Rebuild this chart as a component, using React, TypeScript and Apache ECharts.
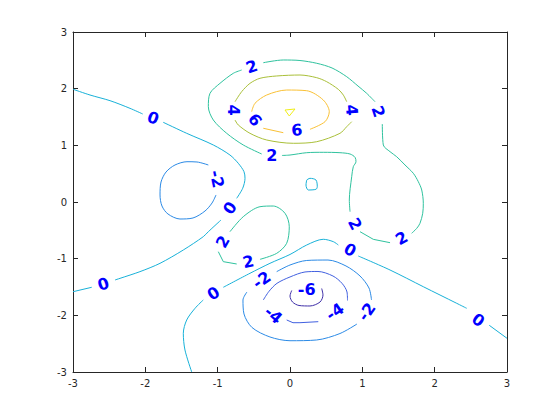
import React, { useEffect, useRef } from "react";
import * as echarts from "echarts";

type Pt = [number, number];

// Contour levels and their colours (parula-like)
const levels = [-6, -4, -2, 0, 2, 4, 6, 8];
const levelColors = ["#3e2ea8", "#4160e0", "#2b8ae6", "#18b1d8", "#2fc29e", "#a9bf38", "#f9c035", "#f0ee18"];

// Contour segments, per level (each level: list of polylines)
const contourM6: Pt[][] = [
  [[0.024, -1.562], [0.0, -1.659], [0.035, -1.765], [0.124, -1.826], [0.276, -1.835], [0.415, -1.765], [0.456, -1.641], [0.438, -1.526]],
];
const contourM4: Pt[][] = [
  [[-0.369, -1.729], [-0.29, -1.576], [-0.18, -1.435], [0.0, -1.323], [0.207, -1.235], [0.387, -1.226], [0.594, -1.306], [0.719, -1.435], [0.788, -1.588], [0.795, -1.738]],
  [[-0.046, -2.082], [0.041, -2.13], [0.138, -2.13], [0.391, -2.112]],
];
const contourM2: Pt[][] = [
  [[-1.129, 0.653], [-1.286, 0.706], [-1.424, 0.711], [-1.59, 0.653], [-1.714, 0.529], [-1.783, 0.353], [-1.797, 0.124], [-1.77, -0.071], [-1.687, -0.212], [-1.521, -0.3], [-1.341, -0.282], [-1.175, -0.159], [-1.078, -0.018], [-1.023, 0.124]],
  [[-0.184, -1.229], [0.0, -1.112], [0.231, -1.032], [0.525, -1.024], [0.774, -1.129], [0.968, -1.306], [1.092, -1.518], [1.127, -1.729]],
  [[0.926, -2.153], [0.691, -2.321], [0.369, -2.435], [0.0, -2.448], [-0.277, -2.382], [-0.525, -2.215], [-0.636, -1.976], [-0.65, -1.729], [-0.595, -1.588]],
];
const contour0: Pt[][] = [
  [[-3.0, 1.99], [-2.765, 1.888], [-2.488, 1.788], [-2.212, 1.653], [-2.036, 1.553]],
  [[-1.752, 1.406], [-1.428, 1.212], [-1.06, 1.006], [-0.83, 0.829], [-0.715, 0.683], [-0.636, 0.535], [-0.622, 0.418], [-0.654, 0.242], [-0.737, 0.065]],
  [[-0.954, -0.318], [-1.129, -0.524], [-1.199, -0.612], [-1.475, -0.847], [-1.797, -1.082], [-2.074, -1.229], [-2.35, -1.347], [-2.419, -1.376]],
  [[-2.741, -1.505], [-3.0, -1.583]],
  [[-1.359, -3.0], [-1.452, -2.612], [-1.475, -2.317], [-1.428, -2.082], [-1.313, -1.876], [-1.199, -1.729]],
  [[-0.922, -1.505], [-0.553, -1.258], [-0.277, -1.082], [0.0, -0.926], [0.231, -0.759], [0.46, -0.658], [0.599, -0.7], [0.668, -0.759]],
  [[0.944, -0.953], [1.383, -1.2], [1.843, -1.495], [2.305, -1.788], [2.443, -1.876]],
  [[2.755, -2.176], [3.0, -2.405]],
  [[0.231, 0.388], [0.276, 0.418], [0.359, 0.388], [0.377, 0.27], [0.359, 0.224], [0.253, 0.212], [0.221, 0.3], [0.231, 0.388]],
];
const contour2: Pt[][] = [
  [[-0.369, 2.458], [-0.093, 2.506], [0.138, 2.497], [0.369, 2.448], [0.581, 2.365], [0.784, 2.211], [0.94, 2.047], [1.06, 1.918], [1.175, 1.77]],
  [[1.276, 1.376], [1.29, 1.006], [1.383, 0.888], [1.475, 0.799], [1.59, 0.653], [1.705, 0.506], [1.774, 0.358], [1.821, 0.212], [1.843, -0.023], [1.835, -0.199], [1.797, -0.376], [1.752, -0.465], [1.682, -0.552]],
  [[1.383, -0.718], [1.152, -0.659], [0.968, -0.524]],
  [[0.83, -0.171], [0.82, 0.035], [0.853, 0.446], [0.875, 0.623], [0.912, 0.711], [0.899, 0.789], [0.83, 0.847], [0.691, 0.87], [0.46, 0.877], [0.231, 0.87], [0.0, 0.829], [-0.111, 0.821]],
  [[-0.391, 0.847], [-0.646, 1.006], [-0.875, 1.212], [-1.06, 1.447], [-1.129, 1.682], [-1.106, 1.918], [-0.968, 2.094], [-0.784, 2.271], [-0.668, 2.329]],
  [[-0.83, -0.524], [-0.646, -0.259], [-0.415, -0.083], [-0.231, -0.071], [-0.069, -0.199], [-0.01, -0.436], [-0.046, -0.729], [-0.184, -0.906], [-0.415, -1.012]],
  [[-0.737, -1.094], [-0.922, -1.053], [-0.991, -0.877]],
];
const contour4: Pt[][] = [
  [[-0.76, 1.77], [-0.668, 1.947], [-0.553, 2.094], [-0.415, 2.183], [-0.184, 2.224], [0.138, 2.241], [0.369, 2.194], [0.507, 2.123], [0.668, 1.988], [0.737, 1.888], [0.784, 1.77]],
  [[0.853, 1.417], [0.784, 1.329], [0.691, 1.212], [0.369, 1.064], [0.046, 1.036], [-0.322, 1.094], [-0.553, 1.212], [-0.715, 1.359], [-0.76, 1.447]],
];
const contour6: Pt[][] = [
  [[-0.53, 1.594], [-0.484, 1.742], [-0.322, 1.888], [-0.046, 1.976], [0.231, 1.964], [0.46, 1.8], [0.543, 1.594], [0.484, 1.417], [0.276, 1.283]],
  [[-0.093, 1.223], [-0.369, 1.301]],
];
const contour8: Pt[][] = [
  [[-0.069, 1.623], [0.069, 1.641], [-0.01, 1.518], [-0.069, 1.623]],
];
const contoursByLevel = [contourM6, contourM4, contourM2, contour0, contour2, contour4, contour6, contour8];

// Contour labels
const labelText = ["0", "0", "0", "-2", "2", "2", "4", "4", "6", "6", "2", "2", "2", "0", "0", "0", "2", "2", "-2", "-2", "-4", "-4", "-6"];
const labelX = [-1.894, -0.83, -2.581, -1.013, -0.53, 1.221, -0.784, 0.853, -0.484, 0.093, -0.253, 1.544, 0.899, 0.83, 2.603, -1.06, -0.93, -0.576, -0.391, 1.06, -0.231, 0.622, 0.231];
const labelY = [1.482, -0.106, -1.447, 0.406, 2.388, 1.594, 1.623, 1.623, 1.447, 1.271, 0.829, -0.641, -0.388, -0.847, -2.082, -1.611, -0.7, -1.053, -1.376, -1.936, -1.994, -1.936, -1.541];
const labelAngle = [-20, 55, 18, -78, 19, -72, -90, -85, -55, 5, 0, 30, -63, -29, -36, 33, 60, 12, 35, 55, -40, 35, 0];

// Axis ticks
const axisMin = -3;
const axisMax = 3;
const tickStep = 1;

export default function App() {
  const ref = useRef<HTMLDivElement>(null);
  useEffect(() => {
    if (!ref.current) return;
    const chart = echarts.init(ref.current, undefined, { renderer: "svg" });
    const axisColor = "#262626";
    const font = "DejaVu Sans";
    const baseAxis = {
      type: "value" as const,
      min: axisMin,
      max: axisMax,
      interval: tickStep,
      axisLine: { show: true, onZero: false, lineStyle: { color: axisColor, width: 1 } },
      axisTick: { show: true, inside: true, length: 5, lineStyle: { color: axisColor } },
      splitLine: { show: false },
    };
    const series: any[] = [];
    contoursByLevel.forEach((segs, li) => {
      segs.forEach((seg, si) => {
        series.push({
          type: "line",
          name: `L${levels[li]}_${si}`,
          data: seg,
          showSymbol: false,
          symbol: "none",
          smooth: seg.length > 4 && li < 7 ? 0.3 : false,
          silent: true,
          lineStyle: { color: levelColors[li], width: 1 },
          z: 2,
        });
      });
    });
    series.push({
      type: "scatter",
      symbolSize: 0,
      silent: true,
      z: 5,
      itemStyle: { opacity: 1, color: "#0000ff" },
      data: labelText.map((t, i) => ({
        name: t,
        value: [labelX[i], labelY[i]],
        label: { rotate: labelAngle[i] },
      })),
      label: {
        show: true,
        position: "inside",
        formatter: "{b}",
        color: "#0000ff",
        opacity: 1,
        textBorderWidth: 0,
        fontWeight: "bold",
        fontSize: 16,
        fontFamily: font,
      },
    });
    chart.setOption({
      animation: false,
      backgroundColor: "#ffffff",
      grid: { left: 73, right: 53, top: 32, bottom: 48, containLabel: false },
      xAxis: [
        { ...baseAxis, position: "bottom", axisLabel: { color: axisColor, fontSize: 10, fontFamily: font, margin: 6 } },
        { ...baseAxis, position: "top", axisLabel: { show: false } },
      ],
      yAxis: [
        { ...baseAxis, position: "left", axisLabel: { color: axisColor, fontSize: 10, fontFamily: font, margin: 6 } },
        { ...baseAxis, position: "right", axisLabel: { show: false } },
      ],
      series,
    });
    return () => chart.dispose();
  }, []);
  return (
    <div
      ref={ref}
      style={{ position: "fixed", left: 0, top: 0, width: 560, height: 420, background: "#fff" }}
    />
  );
}
